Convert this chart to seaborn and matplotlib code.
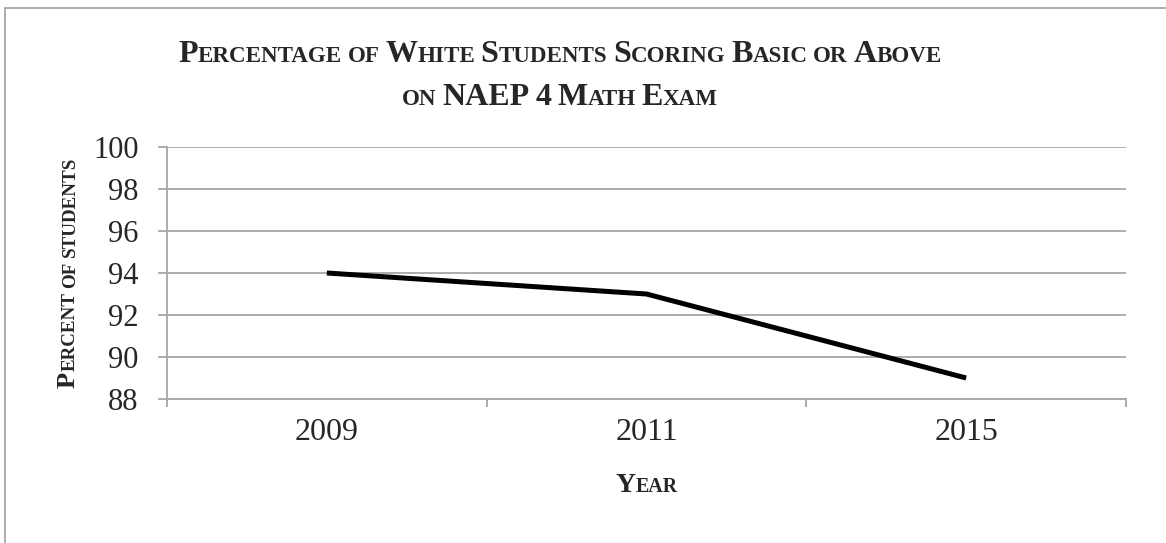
import matplotlib
matplotlib.use("Agg")
import matplotlib.pyplot as plt
from matplotlib.patches import Rectangle
from matplotlib.ticker import FixedLocator
import seaborn as sns
import pandas as pd

# Data
years = ["2009", "2011", "2015"]
percent_basic_or_above = [94, 93, 89]
y_ticks = [88, 90, 92, 94, 96, 98, 100]

title_lines = ["Percentage of White Students Scoring Basic or Above",
               "on NAEP 4 Math Exam"]
y_label = "Percent of students"
x_label = "Year"

sns.set_style("white")
plt.rcParams["font.family"] = ["Liberation Serif", "DejaVu Serif"]

W, H = 1166, 543
fig = plt.figure(figsize=(W / 100, H / 100), dpi=100)
renderer = fig.canvas.get_renderer()

GRAY = "#a6a6a6"

# Plot area
ax = fig.add_axes([167 / W, 1 - 399 / H, (1126 - 167) / W, (399 - 147) / H])
df = pd.DataFrame({"Year": years, "Percent": percent_basic_or_above})
sns.lineplot(data=df, x="Year", y="Percent", ax=ax, color="black",
             linewidth=3.6, sort=False, solid_capstyle="butt")

ax.set_xlim(-0.5, len(years) - 0.5)
ax.set_ylim(min(y_ticks), max(y_ticks))
ax.set_yticks(y_ticks)
ax.set_yticklabels([str(v) for v in y_ticks])
ax.set_xticks(range(len(years)))
ax.set_xticklabels(years)
ax.xaxis.set_minor_locator(FixedLocator([i - 0.5 for i in range(len(years) + 1)]))
ax.set_xlabel("")
ax.set_ylabel("")

ax.yaxis.grid(True, color=GRAY, linewidth=1.3)
ax.xaxis.grid(False)
for side in ("top", "right"):
    ax.spines[side].set_visible(False)
for side in ("left", "bottom"):
    ax.spines[side].set_color(GRAY)
    ax.spines[side].set_linewidth(1.3)

ax.tick_params(axis="y", which="major", direction="out", length=6.5, width=1.3,
               color=GRAY, labelsize=22, pad=14, left=True)
ax.tick_params(axis="x", which="major", length=0, labelsize=23, pad=14, bottom=True)
ax.tick_params(axis="x", which="minor", direction="out", length=6, width=1.3,
               color=GRAY, bottom=True)


# Small-caps text: capitals at full size, lowercase letters as smaller capitals
def small_caps(text, x, y, size, rotation=0, ratio=0.72, weight="bold"):
    """Draw text centred at pixel (x, y-baseline); y measured from the top."""
    def measure(s, fs):
        t = fig.text(0, 0, s, fontsize=fs, fontweight=weight)
        w = t.get_window_extent(renderer).width
        t.remove()
        return w

    words = text.split(" ")
    space = measure("X X", size * ratio) - measure("XX", size * ratio)
    pieces = []  # (string, fontsize, offset)
    pos = 0.0
    for wi, word in enumerate(words):
        if wi:
            pos += space
        runs = []
        for ch in word:
            big = not ch.islower()
            if runs and runs[-1][1] == big:
                runs[-1][0] += ch.upper()
            else:
                runs.append([ch.upper(), big])
        for s, big in runs:
            fs = size if big else size * ratio
            pieces.append((s, fs, pos))
            pos += measure(s, fs)
    start = -pos / 2
    for s, fs, off in pieces:
        d = start + off
        if rotation == 90:
            px, py = x, y - d
        else:
            px, py = x + d, y
        fig.text(px / W, 1 - py / H, s, fontsize=fs, fontweight=weight,
                 ha="left", va="baseline", rotation=rotation,
                 rotation_mode="anchor")
    return pos


small_caps(title_lines[0], 560, 62, 23)
small_caps(title_lines[1], 560, 105, 23)
small_caps(y_label, 75, 272, 19, rotation=90)
small_caps(x_label, 647, 492, 20)

# Chart-area border
fig.patches.append(Rectangle((5 / W, -0.1), 1.2, 1.1 - 8 / H,
                             transform=fig.transFigure, fill=False,
                             edgecolor=GRAY, linewidth=1.3, figure=fig))

fig.savefig("out.png", dpi=100, facecolor="white")
